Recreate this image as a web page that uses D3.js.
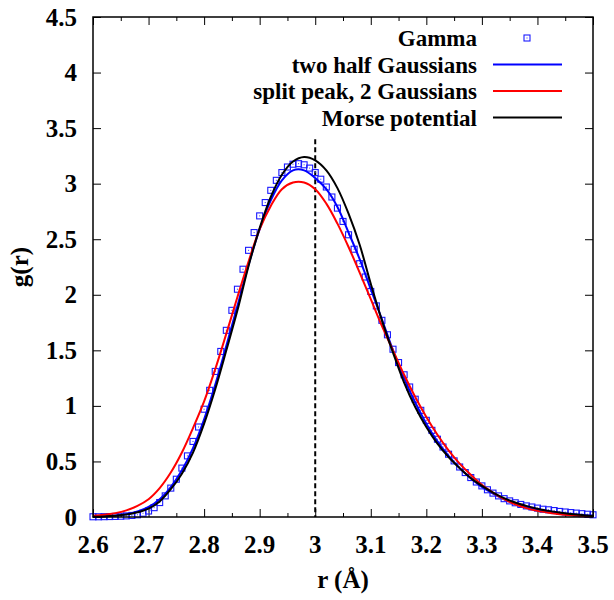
<!DOCTYPE html>
<html>
<head>
<meta charset="utf-8">
<script src="https://cdn.jsdelivr.net/npm/d3@7"></script>
<style>
  body { margin: 0; background: #fff; }
  .chart text { font-family: "Liberation Serif", "Times New Roman", serif; font-weight: bold; }
</style>
</head>
<body>
<div class="chart"></div>
<script>
// x grid of the fitted curves (r in Angstrom)
var rCurve = [2.60, 2.62, 2.64, 2.66, 2.68, 2.70, 2.72, 2.74, 2.76, 2.78,
  2.80, 2.82, 2.84, 2.86, 2.88, 2.90, 2.92, 2.94, 2.96, 2.98,
  3.00, 3.02, 3.04, 3.06, 3.08, 3.10, 3.12, 3.14, 3.16, 3.18,
  3.20, 3.22, 3.24, 3.26, 3.28, 3.30, 3.32, 3.34, 3.36, 3.38,
  3.40, 3.42, 3.44, 3.46, 3.48, 3.50];

var halfGauss = [0.003, 0.006, 0.013, 0.026, 0.05, 0.09, 0.16, 0.27, 0.42, 0.62,
  0.88, 1.19, 1.54, 1.90, 2.27, 2.59, 2.85, 3.03, 3.12, 3.12,
  3.05, 2.95, 2.79, 2.56, 2.32, 2.05, 1.78, 1.50, 1.25, 1.03,
  0.84, 0.68, 0.55, 0.44, 0.35, 0.27, 0.21, 0.16, 0.12, 0.09,
  0.07, 0.05, 0.037, 0.027, 0.019, 0.013];

var splitPeak = [0.012, 0.02, 0.035, 0.06, 0.10, 0.16, 0.26, 0.40, 0.58, 0.80,
  1.04, 1.33, 1.65, 1.98, 2.30, 2.59, 2.80, 2.95, 3.01, 3.01,
  2.95, 2.82, 2.64, 2.43, 2.20, 1.96, 1.72, 1.50, 1.28, 1.08,
  0.90, 0.74, 0.60, 0.48, 0.38, 0.29, 0.22, 0.16, 0.115, 0.08,
  0.055, 0.038, 0.025, 0.016, 0.01, 0.006];

var morse = [0.002, 0.005, 0.011, 0.022, 0.042, 0.075, 0.14, 0.25, 0.39, 0.58,
  0.84, 1.15, 1.50, 1.86, 2.26, 2.60, 2.88, 3.08, 3.20, 3.24,
  3.21, 3.12, 2.96, 2.73, 2.45, 2.10, 1.77, 1.48, 1.21, 0.99,
  0.81, 0.66, 0.54, 0.44, 0.35, 0.28, 0.22, 0.17, 0.13, 0.10,
  0.075, 0.055, 0.04, 0.028, 0.018, 0.01];

// Gamma distribution points
var rGamma = [2.60, 2.61, 2.62, 2.63, 2.64, 2.65, 2.66, 2.67, 2.68, 2.69,
  2.70, 2.71, 2.72, 2.73, 2.74, 2.75, 2.76, 2.77, 2.78, 2.79,
  2.80, 2.81, 2.82, 2.83, 2.84, 2.85, 2.86, 2.87, 2.88, 2.89,
  2.90, 2.91, 2.92, 2.93, 2.94, 2.95, 2.96, 2.97, 2.98, 2.99,
  3.00, 3.01, 3.02, 3.03, 3.04, 3.05, 3.06, 3.07, 3.08, 3.09,
  3.10, 3.11, 3.12, 3.13, 3.14, 3.15, 3.16, 3.17, 3.18, 3.19,
  3.20, 3.21, 3.22, 3.23, 3.24, 3.25, 3.26, 3.27, 3.28, 3.29,
  3.30, 3.31, 3.32, 3.33, 3.34, 3.35, 3.36, 3.37, 3.38, 3.39,
  3.40, 3.41, 3.42, 3.43, 3.44, 3.45, 3.46, 3.47, 3.48, 3.49, 3.50];

var gamma = [0.002, 0.002, 0.003, 0.004, 0.005, 0.007, 0.010, 0.014, 0.020, 0.034,
  0.054, 0.084, 0.13, 0.19, 0.26, 0.34, 0.44, 0.55, 0.68, 0.81,
  0.97, 1.14, 1.31, 1.49, 1.68, 1.86, 2.05, 2.23, 2.40, 2.56,
  2.71, 2.83, 2.94, 3.03, 3.10, 3.15, 3.175, 3.18, 3.17, 3.14,
  3.10, 3.04, 2.97, 2.88, 2.78, 2.66, 2.54, 2.41, 2.28, 2.16,
  2.03, 1.90, 1.77, 1.64, 1.51, 1.39, 1.28, 1.17, 1.06, 0.96,
  0.87, 0.78, 0.70, 0.63, 0.565, 0.505, 0.45, 0.40, 0.355, 0.315,
  0.28, 0.245, 0.215, 0.19, 0.165, 0.145, 0.128, 0.113, 0.10, 0.09,
  0.08, 0.07, 0.065, 0.058, 0.05, 0.045, 0.04, 0.035, 0.03, 0.025, 0.02];

var xTicks = [2.6, 2.7, 2.8, 2.9, 3, 3.1, 3.2, 3.3, 3.4, 3.5];
var xMinorTicks = [2.65, 2.75, 2.85, 2.95, 3.05, 3.15, 3.25, 3.35, 3.45];
var yTicks = [0, 0.5, 1, 1.5, 2, 2.5, 3, 3.5, 4, 4.5];

var legendNames = ['Gamma', 'two half Gaussians', 'split peak, 2 Gaussians', 'Morse potential'];
var lineColors = ['#0000ff', '#ff0000', '#000000'];

var margin = { top: 17, right: 21, bottom: 83, left: 93 };
var width = 614 - margin.left - margin.right;
var height = 600 - margin.top - margin.bottom;

var svg = d3.select('.chart')
  .append('svg')
  .attr('width', 614)
  .attr('height', 600)
  .append('g')
  .attr('transform', `translate(${margin.left}, ${margin.top})`);

var xScale = d3.scaleLinear().domain([2.6, 3.5]).range([0, width]);
var yScale = d3.scaleLinear().domain([0, 4.5]).range([height, 0]);

svg.append('defs').append('clipPath').attr('id', 'plot-clip')
  .append('rect').attr('x', -4).attr('y', 0).attr('width', width + 8).attr('height', height + 4);

// ticks on all four sides, pointing inward
function drawTicks(scale, values, len, side) {
  svg.append('g')
    .attr('transform', side == 'bottom' ? `translate(0, ${height})` : side == 'right' ? `translate(${width}, 0)` : null)
    .call((side == 'bottom' ? d3.axisBottom(scale) : side == 'top' ? d3.axisTop(scale)
      : side == 'left' ? d3.axisLeft(scale) : d3.axisRight(scale))
      .tickValues(values).tickSize(-len).tickFormat(''))
    .call(g => g.select('.domain').remove())
    .selectAll('line').attr('stroke', '#000').attr('stroke-width', 1);
}
drawTicks(xScale, xTicks, 8, 'bottom');
drawTicks(xScale, xMinorTicks, 4, 'bottom');
drawTicks(xScale, xTicks, 8, 'top');
drawTicks(xScale, xMinorTicks, 4, 'top');
drawTicks(yScale, yTicks, 8, 'left');
drawTicks(yScale, yTicks, 8, 'right');

// tick labels
svg.append('g').selectAll('text')
  .data(xTicks).enter().append('text')
  .attr('x', d => xScale(d))
  .attr('y', height + 36)
  .style('text-anchor', 'middle')
  .style('font-size', '25px')
  .text(d => d);

svg.append('g').selectAll('text')
  .data(yTicks).enter().append('text')
  .attr('x', -16)
  .attr('y', d => yScale(d))
  .attr('dy', '0.34em')
  .style('text-anchor', 'end')
  .style('font-size', '25px')
  .text(d => d);

// axis titles
svg.append('text')
  .attr('transform', `translate(${-65}, ${height / 2}) rotate(-90)`)
  .style('text-anchor', 'middle')
  .style('font-size', '25px')
  .text('g(r)');

svg.append('text')
  .attr('x', width / 2)
  .attr('y', height + 71)
  .style('text-anchor', 'middle')
  .style('font-size', '25px')
  .text('r (Å)');

// dashed marker at r = 3
svg.append('line')
  .attr('x1', xScale(3)).attr('x2', xScale(3))
  .attr('y1', yScale(3.4)).attr('y2', height)
  .style('stroke', '#000')
  .style('stroke-width', 2)
  .style('stroke-dasharray', '5,3');

// fitted curves
var line = d3.line()
  .x((d, i) => xScale(rCurve[i]))
  .y(d => yScale(d))
  .curve(d3.curveCatmullRom.alpha(0.5));

var plot = svg.append('g').attr('clip-path', 'url(#plot-clip)');

// gamma squares
var gSquares = plot.selectAll('.gamma')
  .data(gamma)
  .enter()
  .append('g')
  .attr('class', 'gamma')
  .attr('transform', (d, i) => `translate(${xScale(rGamma[i])}, ${yScale(d)})`);

gSquares.append('rect')
  .attr('x', -3).attr('y', -3)
  .attr('width', 6).attr('height', 6)
  .style('fill', 'none')
  .style('stroke', '#1a1aff')
  .style('stroke-width', 1.1);

gSquares.append('rect')
  .attr('x', -0.5).attr('y', -0.5)
  .attr('width', 1).attr('height', 1)
  .style('fill', '#3333ff');

[halfGauss, splitPeak, morse].forEach((series, i) => {
  plot.append('path')
    .attr('d', line(series))
    .style('stroke', lineColors[i])
    .style('stroke-width', 2)
    .style('fill', 'none');
});

// frame
svg.append('rect')
  .attr('width', width).attr('height', height)
  .style('fill', 'none')
  .style('stroke', '#000')
  .style('stroke-width', 1.5);

// legend
var legend = svg.append('g').attr('transform', 'translate(0, 21)');
legendNames.forEach((name, i) => {
  var y = i * 26.5;
  legend.append('text')
    .attr('x', 384)
    .attr('y', y)
    .attr('dy', '0.35em')
    .style('text-anchor', 'end')
    .style('font-size', '23px')
    .text(name);
  if (i == 0) {
    legend.append('rect')
      .attr('x', 431).attr('y', y - 3)
      .attr('width', 6).attr('height', 6)
      .style('fill', 'none')
      .style('stroke', '#1a1aff')
      .style('stroke-width', 1.1);
    legend.append('rect')
      .attr('x', 433.5).attr('y', y - 0.5)
      .attr('width', 1).attr('height', 1)
      .style('fill', '#3333ff');
  } else {
    legend.append('line')
      .attr('x1', 400).attr('x2', 469)
      .attr('y1', y).attr('y2', y)
      .style('stroke', lineColors[i - 1])
      .style('stroke-width', 2);
  }
});
</script>
</body>
</html>
